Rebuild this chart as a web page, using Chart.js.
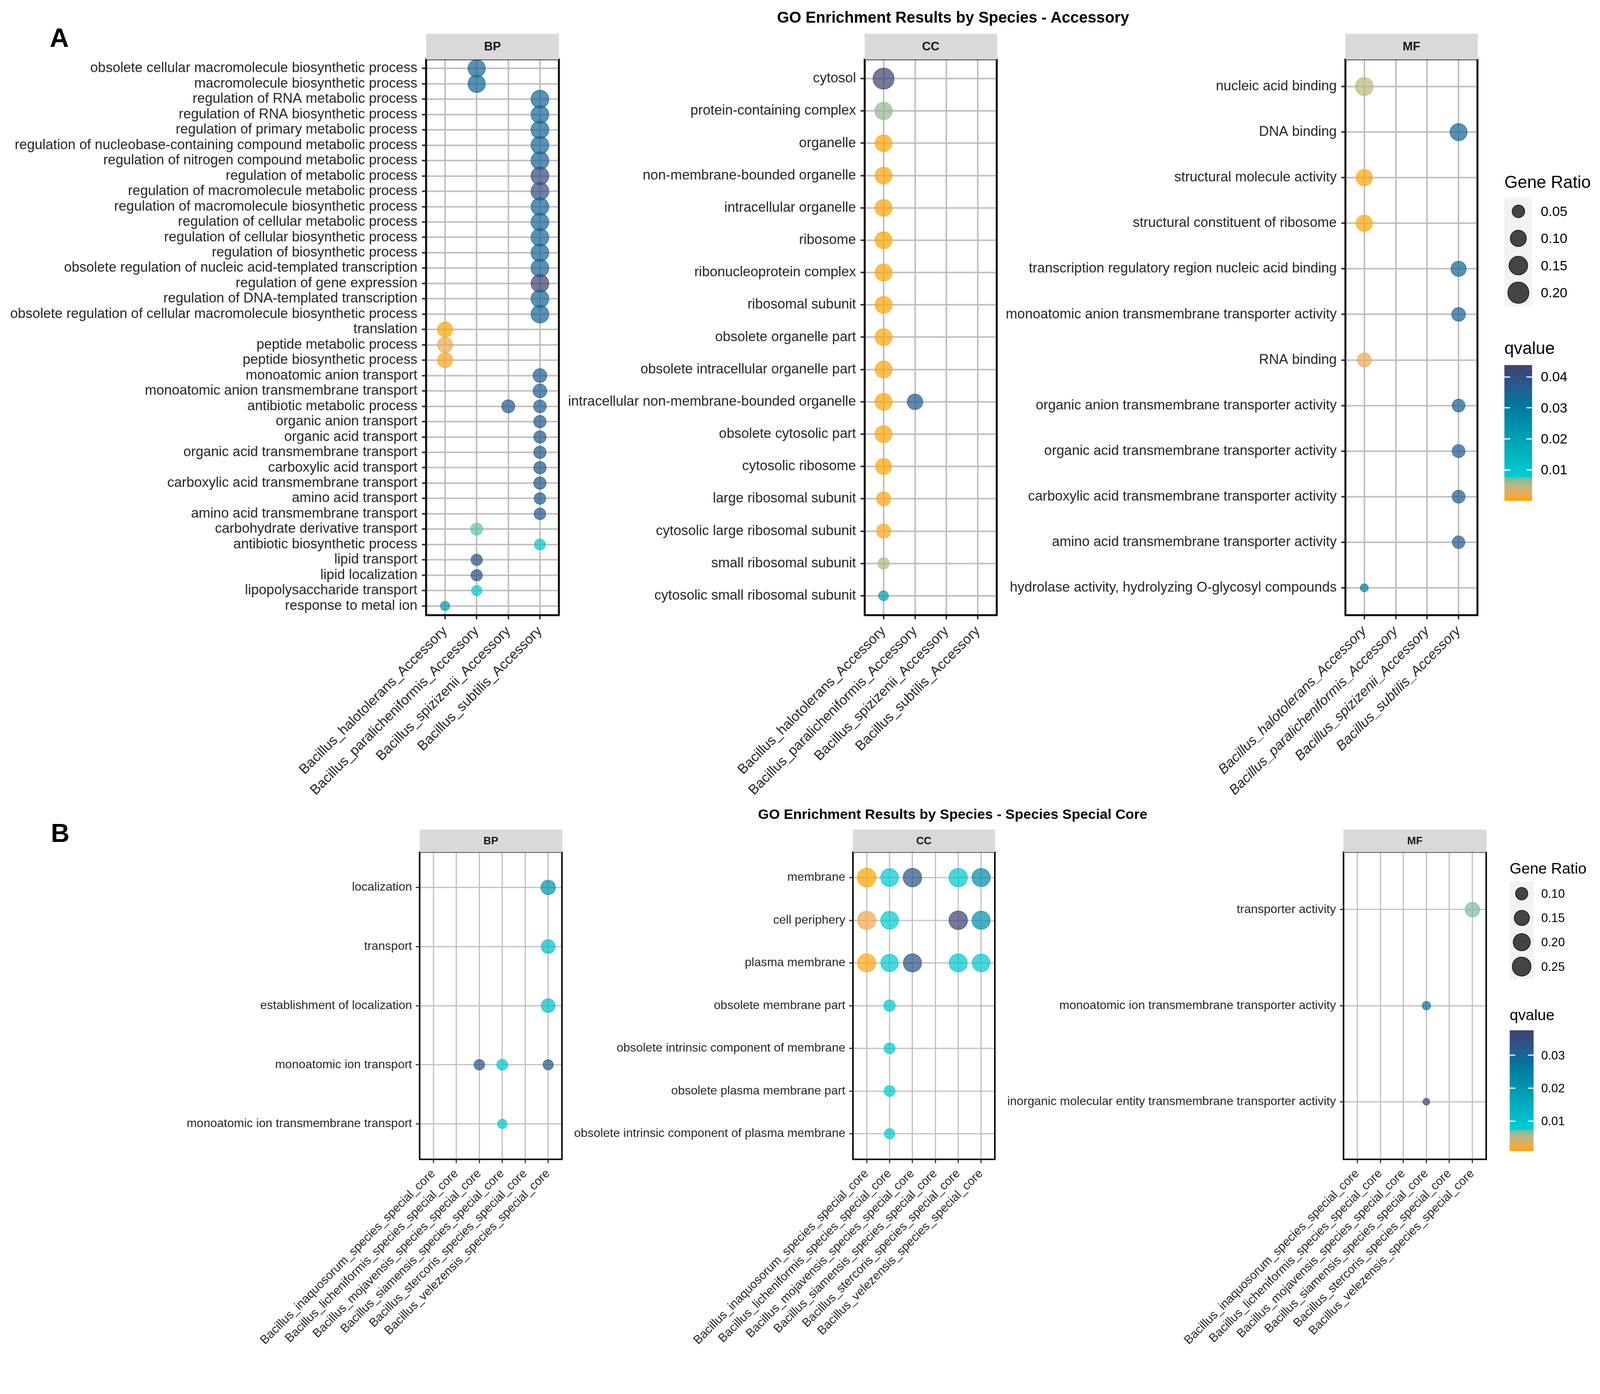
<!DOCTYPE html>
<html>
<head>
<meta charset="utf-8">
<script src="https://cdn.jsdelivr.net/npm/chart.js@4.4.1/dist/chart.umd.min.js"></script>
<style>
  html, body { margin: 0; padding: 0; background: #fff; overflow: hidden; }
  #page { position: relative; width: 4217px; height: 3568px; overflow: hidden; font-family: "Liberation Sans", Arial, sans-serif; color: #000; transform-origin: 0 0; }
  #page canvas { position: absolute; }
  .txt { position: absolute; white-space: nowrap; line-height: 1; }
  .strip { position: absolute; background: #d9d9d9; font-weight: bold; display: flex; align-items: center; justify-content: center; color: #1a1a1a; }
  .keybox { position: absolute; background: #f2f2f2; }
  .key { position: absolute; box-sizing: border-box; border-radius: 50%; background: rgba(0,0,0,0.72); border: 2px solid #1a1a1a; transform: translate(-50%, -50%); }
  .bar { position: absolute; }
  .bartick { position: absolute; height: 3px; background: #fff; }
</style>
</head>
<body>
<div id="page"></div>
<script>
// ---- data ----
const A_SPECIES = [
  "Bacillus_halotolerans_Accessory",
  "Bacillus_paralicheniformis_Accessory",
  "Bacillus_spizizenii_Accessory",
  "Bacillus_subtilis_Accessory",
];
const B_SPECIES = [
  "Bacillus_inaquosorum_species_special_core",
  "Bacillus_licheniformis_species_special_core",
  "Bacillus_mojavensis_species_special_core",
  "Bacillus_siamensis_species_special_core",
  "Bacillus_stercoris_species_special_core",
  "Bacillus_velezensis_species_special_core",
];

const A_BP_TERMS = [
  "obsolete cellular macromolecule biosynthetic process",
  "macromolecule biosynthetic process",
  "regulation of RNA metabolic process",
  "regulation of RNA biosynthetic process",
  "regulation of primary metabolic process",
  "regulation of nucleobase-containing compound metabolic process",
  "regulation of nitrogen compound metabolic process",
  "regulation of metabolic process",
  "regulation of macromolecule metabolic process",
  "regulation of macromolecule biosynthetic process",
  "regulation of cellular metabolic process",
  "regulation of cellular biosynthetic process",
  "regulation of biosynthetic process",
  "obsolete regulation of nucleic acid-templated transcription",
  "regulation of gene expression",
  "regulation of DNA-templated transcription",
  "obsolete regulation of cellular macromolecule biosynthetic process",
  "translation",
  "peptide metabolic process",
  "peptide biosynthetic process",
  "monoatomic anion transport",
  "monoatomic anion transmembrane transport",
  "antibiotic metabolic process",
  "organic anion transport",
  "organic acid transport",
  "organic acid transmembrane transport",
  "carboxylic acid transport",
  "carboxylic acid transmembrane transport",
  "amino acid transport",
  "amino acid transmembrane transport",
  "carbohydrate derivative transport",
  "antibiotic biosynthetic process",
  "lipid transport",
  "lipid localization",
  "lipopolysaccharide transport",
  "response to metal ion",
];
// [term index, species index, gene ratio, qvalue]
const A_BP_POINTS = [
  [0, 1, 0.122, 0.034], [1, 1, 0.122, 0.034],
  [2, 3, 0.13, 0.034], [3, 3, 0.13, 0.034], [4, 3, 0.13, 0.034], [5, 3, 0.13, 0.034],
  [6, 3, 0.13, 0.035], [7, 3, 0.13, 0.041], [8, 3, 0.13, 0.040], [9, 3, 0.13, 0.034],
  [10, 3, 0.13, 0.034], [11, 3, 0.13, 0.034], [12, 3, 0.13, 0.034], [13, 3, 0.13, 0.034],
  [14, 3, 0.13, 0.0438], [15, 3, 0.13, 0.034], [16, 3, 0.13, 0.034],
  [17, 0, 0.0855, 0.0004], [18, 0, 0.086, 0.0022], [19, 0, 0.086, 0.0009],
  [20, 3, 0.065, 0.036], [21, 3, 0.064, 0.036],
  [22, 2, 0.056, 0.037], [22, 3, 0.052, 0.036],
  [23, 3, 0.048, 0.037], [24, 3, 0.048, 0.037], [25, 3, 0.048, 0.037],
  [26, 3, 0.048, 0.037], [27, 3, 0.048, 0.037],
  [28, 3, 0.04, 0.037], [29, 3, 0.04, 0.037],
  [30, 1, 0.044, 0.0074], [31, 3, 0.034, 0.0096],
  [32, 1, 0.037, 0.0385], [33, 1, 0.037, 0.0385],
  [34, 1, 0.028, 0.0092], [35, 0, 0.022, 0.021],
];

const A_CC_TERMS = [
  "cytosol",
  "protein-containing complex",
  "organelle",
  "non-membrane-bounded organelle",
  "intracellular organelle",
  "ribosome",
  "ribonucleoprotein complex",
  "ribosomal subunit",
  "obsolete organelle part",
  "obsolete intracellular organelle part",
  "intracellular non-membrane-bounded organelle",
  "obsolete cytosolic part",
  "cytosolic ribosome",
  "large ribosomal subunit",
  "cytosolic large ribosomal subunit",
  "small ribosomal subunit",
  "cytosolic small ribosomal subunit",
];
const A_CC_POINTS = [
  [0, 0, 0.200, 0.043], [1, 0, 0.125, 0.0066],
  [2, 0, 0.114, 0.0002], [3, 0, 0.114, 0.0002], [4, 0, 0.114, 0.0002],
  [5, 0, 0.114, 0.00002], [6, 0, 0.114, 0.0002], [7, 0, 0.114, 0.0001],
  [8, 0, 0.114, 0.0002], [9, 0, 0.114, 0.0002],
  [10, 0, 0.114, 0.0002], [10, 1, 0.090, 0.036],
  [11, 0, 0.114, 0.0002], [12, 0, 0.099, 0.0002],
  [13, 0, 0.069, 0.0003], [14, 0, 0.069, 0.0004],
  [15, 0, 0.039, 0.0053], [16, 0, 0.025, 0.021],
];

const A_MF_TERMS = [
  "nucleic acid binding",
  "DNA binding",
  "structural molecule activity",
  "structural constituent of ribosome",
  "transcription regulatory region nucleic acid binding",
  "monoatomic anion transmembrane transporter activity",
  "RNA binding",
  "organic anion transmembrane transporter activity",
  "organic acid transmembrane transporter activity",
  "carboxylic acid transmembrane transporter activity",
  "amino acid transmembrane transporter activity",
  "hydrolase activity, hydrolyzing O-glycosyl compounds",
];
const A_MF_POINTS = [
  [0, 0, 0.131, 0.0048], [1, 3, 0.117, 0.034],
  [2, 0, 0.103, 0.0003], [3, 0, 0.103, 0.0003],
  [4, 3, 0.085, 0.034], [5, 3, 0.064, 0.035],
  [6, 0, 0.069, 0.0022],
  [7, 3, 0.054, 0.036], [8, 3, 0.054, 0.036], [9, 3, 0.054, 0.036],
  [10, 3, 0.050, 0.036], [11, 0, 0.0154, 0.028],
];

const B_BP_TERMS = [
  "localization",
  "transport",
  "establishment of localization",
  "monoatomic ion transport",
  "monoatomic ion transmembrane transport",
];
const B_BP_POINTS = [
  [0, 5, 0.135, 0.021], [1, 5, 0.121, 0.0105], [2, 5, 0.121, 0.0105],
  [3, 2, 0.074, 0.0332], [3, 3, 0.0775, 0.009], [3, 5, 0.070, 0.0332],
  [4, 3, 0.063, 0.009],
];

const B_CC_TERMS = [
  "membrane",
  "cell periphery",
  "plasma membrane",
  "obsolete membrane part",
  "obsolete intrinsic component of membrane",
  "obsolete plasma membrane part",
  "obsolete intrinsic component of plasma membrane",
];
const B_CC_POINTS = [
  [0, 0, 0.243, 0.0009], [0, 1, 0.215, 0.0082], [0, 2, 0.234, 0.0332], [0, 4, 0.234, 0.009], [0, 5, 0.225, 0.022],
  [1, 0, 0.234, 0.0024], [1, 1, 0.215, 0.0082], [1, 4, 0.234, 0.0376], [1, 5, 0.225, 0.021],
  [2, 0, 0.225, 0.0013], [2, 1, 0.207, 0.0082], [2, 2, 0.225, 0.0332], [2, 4, 0.225, 0.009], [2, 5, 0.215, 0.009],
  [3, 1, 0.085, 0.0082], [4, 1, 0.078, 0.0082], [5, 1, 0.078, 0.0082], [6, 1, 0.071, 0.0082],
];

const B_MF_TERMS = [
  "transporter activity",
  "monoatomic ion transmembrane transporter activity",
  "inorganic molecular entity transmembrane transporter activity",
];
const B_MF_POINTS = [
  [0, 5, 0.134, 0.0068], [1, 3, 0.056, 0.027], [2, 3, 0.0507, 0.0365],
];

const A_SIZE_BREAKS = [0.05, 0.10, 0.15, 0.20];
const B_SIZE_BREAKS = [0.10, 0.15, 0.20, 0.25];
const A_Q_TICKS = [0.04, 0.03, 0.02, 0.01];
const B_Q_TICKS = [0.03, 0.02, 0.01];

const TITLE_A = "GO Enrichment Results by Species - Accessory";
const TITLE_B = "GO Enrichment Results by Species - Species Special Core";

// ---- scales ----
// qvalue colour ramp, positions relative to the data range
const Q_STOPS = [
  [0, "#FFA500"], [0.04, "#F4A84C"], [0.09, "#D0B274"], [0.12, "#B5B886"],
  [0.15, "#92BA8E"], [0.17, "#5EC2B0"], [0.18, "#00CED1"], [0.70, "#00799F"],
  [0.82, "#225E93"], [1, "#424272"],
];
const ALPHA = 0.72;

function hexToRgb(h) {
  const n = parseInt(h.slice(1), 16);
  return [(n >> 16) & 255, (n >> 8) & 255, n & 255];
}

function rampColour(rel, alpha) {
  rel = Math.min(1, Math.max(0, rel));
  for (let i = 1; i < Q_STOPS.length; i++) {
    const [p0, c0] = Q_STOPS[i - 1];
    const [p1, c1] = Q_STOPS[i];
    if (rel <= p1) {
      const t = (rel - p0) / (p1 - p0);
      const a = hexToRgb(c0);
      const b = hexToRgb(c1);
      const c = a.map((v, k) => Math.round(v + (b[k] - v) * t));
      return `rgba(${c[0]},${c[1]},${c[2]},${alpha})`;
    }
  }
}

function qRange(pointSets) {
  const qs = pointSets.flat().map((p) => p[3]);
  return [Math.min(...qs), Math.max(...qs)];
}

// area-style size scale: diameter in px
function sizeScale(lo, d0, k) {
  return (v) => d0 + k * Math.sqrt(Math.max(v - lo, 0));
}

const A_Q = qRange([A_BP_POINTS, A_CC_POINTS, A_MF_POINTS]);
const B_Q = qRange([B_BP_POINTS, B_CC_POINTS, B_MF_POINTS]);
const A_DIAM = sizeScale(0.01, 16, 95);
const B_DIAM = sizeScale(0.05, 18, 76);

const page = document.getElementById("page");
const FONT = '"Liberation Sans", Arial, sans-serif';

// the drawing is laid out at 4217x3568; fit it to the real viewport
const fit = Math.min(window.innerWidth / 4217, window.innerHeight / 3568);
page.style.transform = `scale(${fit})`;

function addText(text, x, y, size, opts = {}) {
  const el = document.createElement("div");
  el.className = "txt";
  el.textContent = text;
  el.style.left = x + "px";
  el.style.top = y + "px";
  el.style.fontSize = size + "px";
  if (opts.bold) el.style.fontWeight = "bold";
  el.style.transform = opts.center ? "translate(-50%, -50%)" : "translateY(-50%)";
  page.appendChild(el);
  return el;
}

const framePlugin = {
  id: "frame",
  afterDraw(chart, args, opts) {
    const { ctx, chartArea: a } = chart;
    ctx.save();
    ctx.strokeStyle = "#000";
    ctx.lineWidth = opts.width;
    ctx.strokeRect(a.left, a.top, a.right - a.left, a.bottom - a.top);
    ctx.restore();
  },
};

function makePanel(p) {
  const canvas = document.createElement("canvas");
  canvas.width = p.w;
  canvas.height = p.h;
  canvas.style.left = p.left + "px";
  canvas.style.top = p.top + "px";
  canvas.style.width = p.w + "px";
  canvas.style.height = p.h + "px";
  page.appendChild(canvas);

  const strip = document.createElement("div");
  strip.className = "strip";
  strip.textContent = p.strip;
  strip.style.left = p.plotLeft + "px";
  strip.style.top = p.stripTop + "px";
  strip.style.width = p.plotRight - p.plotLeft + "px";
  strip.style.height = p.plotTop - p.stripTop + "px";
  strip.style.fontSize = p.stripFont + "px";
  page.appendChild(strip);

  const [qlo, qhi] = p.qRange;
  const points = p.points.map(([t, s, ratio, q]) => ({
    x: s,
    y: t,
    r: p.diam(ratio) / 2 - 1,
    q,
  }));
  const colourOf = (ctx) => rampColour((ctx.raw.q - qlo) / (qhi - qlo), ALPHA);

  const yAxisW = p.plotLeft - p.left;
  const xAxisH = p.top + p.h - p.plotBottom;
  const tickFont = { family: FONT, size: p.font };
  const grid = {
    color: "#bebebe",
    lineWidth: p.grid,
    tickLength: p.tickLen,
    tickColor: "#333",
    tickWidth: p.grid,
  };

  new Chart(canvas, {
    type: "bubble",
    data: {
      datasets: [
        {
          data: points,
          backgroundColor: colourOf,
          borderColor: colourOf,
          borderWidth: 2,
        },
      ],
    },
    options: {
      responsive: false,
      animation: false,
      devicePixelRatio: 1,
      layout: {
        padding: { top: p.plotTop - p.top, right: p.left + p.w - p.plotRight, left: 0, bottom: 0 },
      },
      plugins: {
        legend: { display: false },
        tooltip: { enabled: false },
        frame: { width: p.frame },
      },
      scales: {
        x: {
          type: "linear",
          min: -0.6,
          max: p.species.length - 0.4,
          afterBuildTicks: (s) => { s.ticks = p.species.map((_, i) => ({ value: i })); },
          afterFit: (s) => { s.height = xAxisH; },
          ticks: {
            callback: (v) => p.species[v],
            autoSkip: false,
            minRotation: 45,
            maxRotation: 45,
            padding: p.xPad,
            color: "#222",
            font: { ...tickFont, style: p.italicX ? "italic" : "normal" },
          },
          grid,
          border: { display: false },
        },
        y: {
          type: "linear",
          reverse: true,
          min: -0.6,
          max: p.terms.length - 0.4,
          afterBuildTicks: (s) => { s.ticks = p.terms.map((_, i) => ({ value: i })); },
          afterFit: (s) => { s.width = yAxisW; },
          ticks: {
            callback: (v) => p.terms[v],
            autoSkip: false,
            padding: p.yPad,
            color: "#222",
            font: tickFont,
          },
          grid,
          border: { display: false },
        },
      },
    },
    plugins: [framePlugin],
  });
}

const ROW_A = { top: 100, h: 2000, plotTop: 156, plotBottom: 1621, stripTop: 89, stripFont: 32,
  font: 36.5, tickLen: 11, yPad: 12, xPad: 10, grid: 4, frame: 5, qRange: A_Q, diam: A_DIAM, species: A_SPECIES };
const ROW_B = { top: 2200, h: 1368, plotTop: 2245, plotBottom: 3055, stripTop: 2186, stripFont: 28,
  font: 32, tickLen: 10, yPad: 10, xPad: 9, grid: 3, frame: 4, qRange: B_Q, diam: B_DIAM, species: B_SPECIES };

makePanel({ ...ROW_A, strip: "BP", terms: A_BP_TERMS, points: A_BP_POINTS, left: 0, w: 1500, plotLeft: 1123, plotRight: 1473 });
makePanel({ ...ROW_A, strip: "CC", terms: A_CC_TERMS, points: A_CC_POINTS, left: 1480, w: 1180, plotLeft: 2279, plotRight: 2627 });
makePanel({ ...ROW_A, strip: "MF", terms: A_MF_TERMS, points: A_MF_POINTS, left: 2600, w: 1320, plotLeft: 3546, plotRight: 3894, italicX: true });

makePanel({ ...ROW_B, strip: "BP", terms: B_BP_TERMS, points: B_BP_POINTS, left: 0, w: 1520, plotLeft: 1106, plotRight: 1481 });
makePanel({ ...ROW_B, strip: "CC", terms: B_CC_TERMS, points: B_CC_POINTS, left: 1460, w: 1200, plotLeft: 2248, plotRight: 2622 });
makePanel({ ...ROW_B, strip: "MF", terms: B_MF_TERMS, points: B_MF_POINTS, left: 2580, w: 1360, plotLeft: 3541, plotRight: 3917 });

// ---- titles and tags ----
addText(TITLE_A, 2512, 46, 41, { bold: true, center: true });
addText(TITLE_B, 2511, 2145, 37, { bold: true, center: true });
addText("A", 131, 100, 70, { bold: true });
addText("B", 134, 2195, 68, { bold: true });

// ---- legends ----
function sizeLegend(l) {
  addText("Gene Ratio", l.x, l.titleY, l.titleFont);
  const box = document.createElement("div");
  box.className = "keybox";
  box.style.left = l.x + "px";
  box.style.top = l.boxTop + "px";
  box.style.width = l.boxW + "px";
  box.style.height = l.step * l.breaks.length + "px";
  page.appendChild(box);
  l.breaks.forEach((b, i) => {
    const cy = l.boxTop + l.step * (i + 0.5);
    const d = l.diam(b);
    const key = document.createElement("div");
    key.className = "key";
    key.style.left = l.x + l.boxW / 2 + "px";
    key.style.top = cy + "px";
    key.style.width = d + "px";
    key.style.height = d + "px";
    page.appendChild(key);
    addText(b.toFixed(2), l.labelX, cy, l.font);
  });
}

function colourLegend(l) {
  addText("qvalue", l.x, l.titleY, l.titleFont);
  const [lo, hi] = l.range;
  const bar = document.createElement("div");
  bar.className = "bar";
  bar.style.left = l.x + "px";
  bar.style.top = l.top + "px";
  bar.style.width = l.w + "px";
  bar.style.height = l.h + "px";
  const stops = Q_STOPS.map(([p, c]) => `${c} ${(p * 100).toFixed(1)}%`).join(", ");
  bar.style.background = `linear-gradient(to top, ${stops})`;
  page.appendChild(bar);
  l.ticks.forEach((t) => {
    const y = l.top + l.h - ((t - lo) / (hi - lo)) * l.h;
    [l.x, l.x + l.w - 15].forEach((tx) => {
      const tick = document.createElement("div");
      tick.className = "bartick";
      tick.style.left = tx + "px";
      tick.style.top = y - 1.5 + "px";
      tick.style.width = "15px";
      page.appendChild(tick);
    });
    addText(t.toFixed(2), l.labelX, y, l.font);
  });
}

sizeLegend({ x: 3965, titleY: 480, titleFont: 45, boxTop: 521, boxW: 73, step: 71.5, breaks: A_SIZE_BREAKS, diam: A_DIAM, labelX: 4061, font: 36 });
colourLegend({ x: 3965, titleY: 917, titleFont: 45, top: 962, w: 73, h: 358, range: A_Q, ticks: A_Q_TICKS, labelX: 4061, font: 36 });

sizeLegend({ x: 3979, titleY: 2288, titleFont: 40, boxTop: 2323, boxW: 63, step: 64, breaks: B_SIZE_BREAKS, diam: B_DIAM, labelX: 4062, font: 32 });
colourLegend({ x: 3979, titleY: 2674, titleFont: 40, top: 2715, w: 63, h: 318, range: B_Q, ticks: B_Q_TICKS, labelX: 4062, font: 32 });
</script>
</body>
</html>
